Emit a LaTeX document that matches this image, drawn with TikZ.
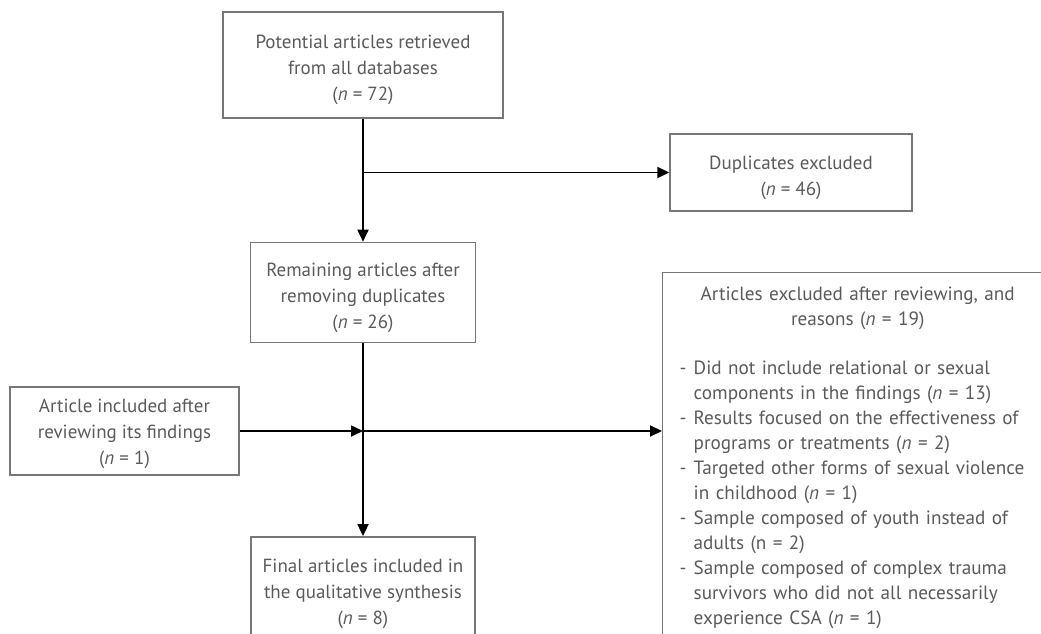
\documentclass[tikz,border=0pt]{standalone}
\usepackage{fontspec}
\setmainfont{PT Sans}
\usepackage{tikz}
\usetikzlibrary{positioning, calc, arrows.meta}

\definecolor{boxgray}{HTML}{777777}
\definecolor{textgray}{HTML}{5A5A5A}

\newcommand{\tstrut}{\rule{0pt}{24pt}}
\newcommand{\exitem}[1]{\par\hangindent=14pt\hangafter=1\noindent\makebox[14pt][l]{-}#1\par}

\begin{document}
\begin{tikzpicture}[x=1pt, y=-1pt, thick, >={Triangle[length=12pt, width=11pt]}]
        % Define block styles
        \tikzstyle{block} = [rectangle, draw=boxgray, line width=1.4pt, text=textgray, align=center, inner sep=0pt, font=\fontsize{19}{26}\selectfont]
        \tikzstyle{line} = [draw=black, line width=1.8pt]

        % Keep the page the size of the reference
        \useasboundingbox (0,0) rectangle (1041,634);
        \clip (0,0) rectangle (1041,634);

        % Place nodes
        \node [block, minimum width=280pt, minimum height=106pt] (potential) at (363,65) {\tstrut Potential articles retrieved\\from all databases\\(\textit{n} = 72)};
        \node [block, minimum width=242pt, minimum height=77pt] (duplicates) at (791,172.5) {\tstrut Duplicates excluded\\(\textit{n} = 46)};
        \node [block, minimum width=225pt, minimum height=100pt, below=123pt of potential] (remaining) {\tstrut Remaining articles after\\removing duplicates\\(\textit{n} = 26)};
        \node [block, minimum width=229pt, minimum height=88pt] (included) at (124.5,431) {\rule{0pt}{20pt}Article included after\\reviewing its findings\\(\textit{n} = 1)};
        \node [block, minimum width=224pt, minimum height=108pt, below=193pt of remaining] (final) {\rule{0pt}{20pt}Final articles included in\\the qualitative synthesis\\(\textit{n} = 8)};
        \node [block, text width=356pt, inner xsep=17pt, inner ysep=14pt, anchor=north west, font=\fontsize{19.2}{25}\selectfont] (excluded) at (662,272) {%
            {\centering Articles excluded after reviewing, and\\reasons (\textit{n} = 19)\par}
            \vspace{24pt}
            \raggedright
            \exitem{Did not include relational or sexual\newline components in the findings (\textit{n} = 13)}
            \exitem{Results focused on the effectiveness of\newline programs or treatments (\textit{n} = 2)}
            \exitem{Targeted other forms of sexual violence\newline in childhood (\textit{n} = 1)}
            \exitem{Sample composed of youth instead of\newline adults (n = 2)}
            \exitem{Sample composed of complex trauma\newline survivors who did not all necessarily\newline experience CSA (\textit{n} = 1)}
            \vspace{40pt}};

        % Draw connections as arrows
        \coordinate (dupsplit) at (potential.south |- duplicates.west);
        \coordinate (join) at (remaining.south |- included.east);
        \draw [line, ->] (potential) -- (remaining);
        \draw [line, ->] (dupsplit) -- (duplicates.west);
        \draw [line, ->] (included.east) -- (join);
        \draw [line, ->] (join) -- (join -| excluded.west);
        \draw [line, ->] (remaining) -- (final);
    \end{tikzpicture}
\end{document}
